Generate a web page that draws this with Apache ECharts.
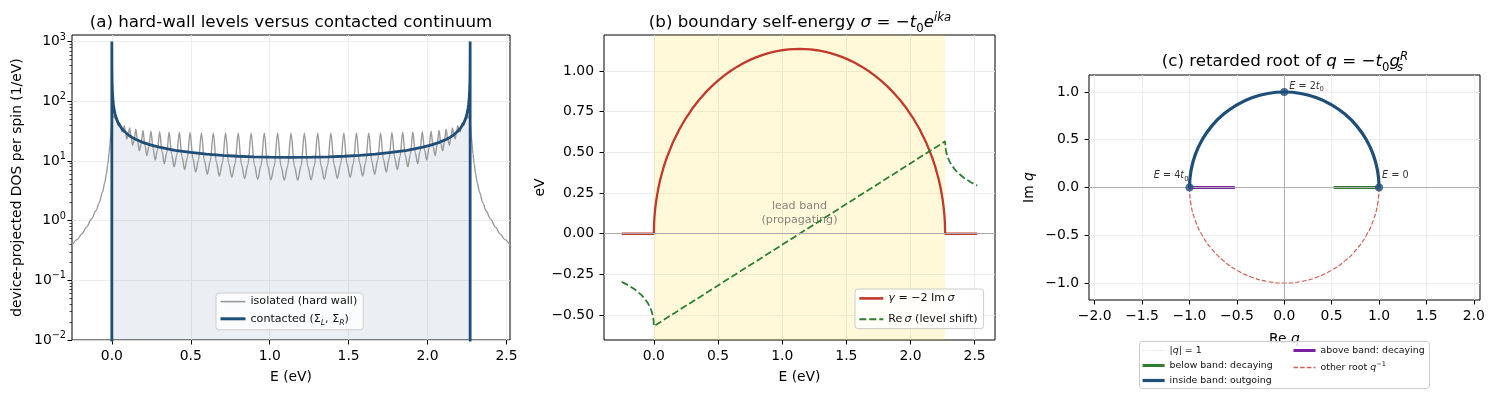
<!DOCTYPE html>
<html>
<head>
<meta charset="utf-8">
<title>hard-wall vs contacted</title>
<script src="https://cdn.jsdelivr.net/npm/echarts@6/dist/echarts.min.js"></script>
<style>
html, body { margin: 0; padding: 0; background: #ffffff; }
#main { width: 1495px; height: 399px; }
</style>
</head>
<body>
<div id="main"></div>
<script>
//---------- (a) 态密度 ----------
const dosTicks = [0.01, 0.1, 1, 10, 100, 1000];
const dosMinorTicks = [0.02, 0.03, 0.04, 0.05, 0.06, 0.07, 0.08, 0.09,
    0.2, 0.3, 0.4, 0.5, 0.6, 0.7, 0.8, 0.9, 2, 3, 4, 5, 6, 7, 8, 9,
    20, 30, 40, 50, 60, 70, 80, 90, 200, 300, 400, 500, 600, 700, 800, 900];
const eTicks = [0, 0.5, 1, 1.5, 2, 2.5];

// isolated (hard wall): [E, DOS]
const isolatedDos = [
    [-0.2525, 0.39], [-0.22, 0.48], [-0.19, 0.60], [-0.16, 0.78], [-0.13, 1.06], [-0.10, 1.48], [-0.08, 2.0],
    [-0.06, 2.97], [-0.045, 4.3], [-0.035, 6.0], [-0.025, 8.9], [-0.018, 13.3], [-0.012, 19], [-0.007, 27], [-0.003, 37],
    [0, 44.6], [0.0032, 51.5], [0.008, 53], [0.0127, 57.4], [0.0205, 52], [0.0285, 50.2], [0.0336, 44], [0.0387, 39.7], [0.0446, 40],
    [0.0504, 43.5], [0.0571, 37.5], [0.0637, 30.7], [0.0711, 33.5], [0.0785, 39.0], [0.0866, 30.2], [0.0947, 23.3], [0.1036, 27.4],
    [0.1124, 35.9], [0.1220, 25.1], [0.1315, 18.3], [0.1418, 23.0], [0.1521, 33.9], [0.1630, 21.3], [0.1740, 14.8], [0.1856, 19.7],
    [0.1972, 32.6], [0.2095, 18.4], [0.2218, 12.3], [0.2347, 17.2], [0.2476, 31.6], [0.2612, 16.1], [0.2747, 10.4], [0.2889, 15.2],
    [0.3030, 31.0], [0.3177, 14.4], [0.3324, 9.03], [0.3477, 13.6], [0.3630, 30.5], [0.3788, 12.9], [0.3947, 7.97], [0.4110, 12.3],
    [0.4273, 30.2], [0.4442, 11.8], [0.4610, 7.15], [0.4783, 11.3], [0.4956, 29.9], [0.5134, 10.9], [0.5312, 6.51], [0.5493, 10.5],
    [0.5675, 29.6], [0.5861, 10.15], [0.6046, 6.00], [0.6236, 9.84], [0.6426, 29.5], [0.6618, 9.56], [0.6811, 5.61], [0.7007, 9.32],
    [0.7203, 29.35], [0.7402, 9.10], [0.7601, 5.31], [0.7803, 8.91], [0.8005, 29.3], [0.8209, 8.74], [0.8412, 5.09], [0.8618, 8.60],
    [0.8824, 29.2], [0.9032, 8.49], [0.9240, 4.93], [0.9449, 8.39], [0.9658, 29.1], [0.9869, 8.31], [1.0079, 4.82], [1.0291, 8.26],
    [1.0502, 29.1], [1.0714, 8.22], [1.0926, 4.77], [1.1138, 8.20], [1.1350, 29.1],
    [1.1562, 8.20], [1.1774, 4.77], [1.1986, 8.22], [1.2198, 29.1], [1.2409, 8.26], [1.2621, 4.82], [1.2831, 8.31], [1.3042, 29.1],
    [1.3251, 8.39], [1.3460, 4.93], [1.3668, 8.49], [1.3876, 29.2], [1.4082, 8.60], [1.4288, 5.09], [1.4491, 8.74], [1.4695, 29.3],
    [1.4897, 8.91], [1.5099, 5.31], [1.5298, 9.10], [1.5497, 29.35], [1.5693, 9.32], [1.5889, 5.61], [1.6082, 9.56], [1.6274, 29.5],
    [1.6464, 9.84], [1.6654, 6.00], [1.6839, 10.15], [1.7025, 29.6], [1.7207, 10.5], [1.7388, 6.51], [1.7566, 10.9], [1.7744, 29.9],
    [1.7917, 11.3], [1.8090, 7.15], [1.8258, 11.8], [1.8427, 30.2], [1.8590, 12.3], [1.8753, 7.97], [1.8912, 12.9], [1.9070, 30.5],
    [1.9223, 13.6], [1.9376, 9.03], [1.9523, 14.4], [1.9670, 31.0], [1.9811, 15.2], [1.9953, 10.4], [2.0088, 16.1], [2.0224, 31.6],
    [2.0353, 17.2], [2.0482, 12.3], [2.0605, 18.4], [2.0728, 32.6], [2.0844, 19.7], [2.0960, 14.8], [2.1070, 21.3], [2.1179, 33.9],
    [2.1282, 23.0], [2.1385, 18.3], [2.1480, 25.1], [2.1576, 35.9], [2.1664, 27.4], [2.1753, 23.3], [2.1834, 30.2], [2.1915, 39.0],
    [2.1989, 33.5], [2.2063, 30.7], [2.2129, 37.5], [2.2196, 43.5], [2.2254, 40], [2.2313, 39.7], [2.2364, 44], [2.2415, 50.2],
    [2.2495, 52], [2.2573, 57.4], [2.2620, 53], [2.2668, 51.5], [2.27, 44.6],
    [2.273, 37], [2.277, 27], [2.282, 19], [2.288, 13.3], [2.295, 8.9], [2.305, 6.0], [2.315, 4.3], [2.33, 2.97],
    [2.35, 2.0], [2.37, 1.48], [2.40, 1.06], [2.43, 0.78], [2.46, 0.60], [2.49, 0.48], [2.5225, 0.39]
];

// contacted (Σ_L, Σ_R): [E, DOS]，带外取很小的值(在轴下方被裁掉)
const contactedDos = [
    [-0.2525, 1e-4], [0, 1e-4], [0, 1000], [0.0002, 612], [0.0005, 387], [0.001, 274], [0.002, 194], [0.004, 137],
    [0.007, 104], [0.01, 86.8], [0.015, 71], [0.02, 61.5], [0.03, 50.3], [0.04, 43.6], [0.05, 39.2], [0.065, 34.4],
    [0.08, 31.1], [0.1, 28.0], [0.125, 25.1], [0.15, 23.1], [0.2, 20.3], [0.25, 18.4], [0.3, 17.0], [0.4, 15.1],
    [0.5, 13.9], [0.6, 13.0], [0.7, 12.45], [0.8, 12.0], [0.9, 11.75], [1.0, 11.58], [1.135, 11.5], [1.27, 11.58],
    [1.37, 11.75], [1.47, 12.0], [1.57, 12.45], [1.67, 13.0], [1.77, 13.9], [1.87, 15.1], [1.97, 17.0], [2.02, 18.4],
    [2.07, 20.3], [2.12, 23.1], [2.145, 25.1], [2.17, 28.0], [2.19, 31.1], [2.205, 34.4], [2.22, 39.2], [2.23, 43.6],
    [2.24, 50.3], [2.25, 61.5], [2.255, 71], [2.26, 86.8], [2.263, 104], [2.266, 137], [2.268, 194], [2.269, 274],
    [2.2695, 387], [2.2698, 612], [2.27, 1000], [2.27, 1e-4], [2.5225, 1e-4]
];

//---------- (b) 自能 ----------
const evTicks = [-0.5, -0.25, 0, 0.25, 0.5, 0.75, 1];
const leadBand = [0, 2.27];
const leadNote = [1.135, 0.125];
const gammaCurve = [
    [-0.25, 0], [0, 0], [0.002, 0.0674], [0.005, 0.1064], [0.01, 0.1503], [0.02, 0.2121], [0.035, 0.2797], [0.05, 0.3332],
    [0.075, 0.4057], [0.1, 0.4658], [0.15, 0.5639], [0.2, 0.6434], [0.25, 0.7106], [0.3, 0.7688], [0.35, 0.8198], [0.4, 0.8649],
    [0.45, 0.905], [0.5, 0.9407], [0.55, 0.9726], [0.6, 1.001], [0.65, 1.0262], [0.7, 1.0483], [0.75, 1.0677], [0.8, 1.0844],
    [0.85, 1.0986], [0.9, 1.1104], [0.95, 1.1198], [1.0, 1.127], [1.05, 1.1318], [1.135, 1.135], [1.22, 1.1318], [1.27, 1.127],
    [1.32, 1.1198], [1.37, 1.1104], [1.42, 1.0986], [1.47, 1.0844], [1.52, 1.0677], [1.57, 1.0483], [1.62, 1.0262], [1.67, 1.001],
    [1.72, 0.9726], [1.77, 0.9407], [1.82, 0.905], [1.87, 0.8649], [1.92, 0.8198], [1.97, 0.7688], [2.02, 0.7106], [2.07, 0.6434],
    [2.12, 0.5639], [2.17, 0.4658], [2.195, 0.4057], [2.22, 0.3332], [2.235, 0.2797], [2.25, 0.2121], [2.26, 0.1503], [2.265, 0.1064],
    [2.268, 0.0674], [2.27, 0], [2.52, 0]
];
const reSigmaCurve = [
    [-0.25, -0.2956], [-0.2, -0.3161], [-0.15, -0.3412], [-0.1, -0.3741], [-0.075, -0.3953], [-0.05, -0.4222], [-0.035, -0.4430],
    [-0.02, -0.4705], [-0.01, -0.4970], [-0.005, -0.5167], [-0.002, -0.5348], [0, -0.5675],
    [2.27, 0.5675], [2.272, 0.5348], [2.275, 0.5167], [2.28, 0.4970], [2.29, 0.4705], [2.305, 0.4430], [2.32, 0.4222],
    [2.345, 0.3953], [2.37, 0.3741], [2.42, 0.3412], [2.47, 0.3161], [2.52, 0.2956]
];

//---------- (c) 复平面 q ----------
const qTicksX = [-2, -1.5, -1, -0.5, 0, 0.5, 1, 1.5, 2];
const qTicksY = [-1, -0.5, 0, 0.5, 1];
const insideArc = [
    [1, 0], [0.9848, 0.1736], [0.9397, 0.3420], [0.8660, 0.5], [0.7660, 0.6428], [0.6428, 0.7660], [0.5, 0.8660],
    [0.3420, 0.9397], [0.1736, 0.9848], [0, 1], [-0.1736, 0.9848], [-0.3420, 0.9397], [-0.5, 0.8660], [-0.6428, 0.7660],
    [-0.7660, 0.6428], [-0.8660, 0.5], [-0.9397, 0.3420], [-0.9848, 0.1736], [-1, 0]
];
const otherArc = [
    [1, 0], [0.9848, -0.1736], [0.9397, -0.3420], [0.8660, -0.5], [0.7660, -0.6428], [0.6428, -0.7660], [0.5, -0.8660],
    [0.3420, -0.9397], [0.1736, -0.9848], [0, -1], [-0.1736, -0.9848], [-0.3420, -0.9397], [-0.5, -0.8660], [-0.6428, -0.7660],
    [-0.7660, -0.6428], [-0.8660, -0.5], [-0.9397, -0.3420], [-0.9848, -0.1736], [-1, 0]
];
const otherRight = [[1, 0], [1.92, 0]];
const otherLeft = [[-1.92, 0], [-1, 0]];
const belowBand = [[0.521, 0], [1, 0]];
const aboveBand = [[-1, 0], [-0.521, 0]];
const keyPoints = [[0, 1], [1, 0], [-1, 0]];
const keyLabels = ['{i|E}{t| = 2}{i|t}{sub|0}', '{i|E}{t| = 0}', '{i|E}{t| = 4}{i|t}{sub|0}'];

//---------- 样式 ----------
const FONT = 'DejaVu Sans';
const BLUE = '#1f4e79', RED = '#c0392b', GREEN = '#2e7d32', PURPLE = '#7b1fa2';
const GRID_C = '#e8e8e8';

//富文本: 普通/斜体/上标/下标
function richStyle(size, color, key) {
    key = key || 'color';
    let lh = Math.round(size * 1.4);
    let small = +(size * 0.7).toFixed(1);
    let slh = Math.round(small * 1.05);
    let mk = (s, italic, extra) => {
        let o = {fontSize: s, fontFamily: FONT, fontStyle: italic ? 'italic' : 'normal', fontWeight: 'normal'};
        o[key] = color;
        return Object.assign(o, extra);
    };
    return {
        t: mk(size, false, {lineHeight: lh}),
        i: mk(size, true, {lineHeight: lh}),
        sup: mk(small, false, {lineHeight: slh, verticalAlign: 'top'}),
        supi: mk(small, true, {lineHeight: slh, verticalAlign: 'top'}),
        sub: mk(small, false, {lineHeight: slh, verticalAlign: 'bottom'}),
        subi: mk(small, true, {lineHeight: slh, verticalAlign: 'bottom'}),
        subz: mk(small, true, {lineHeight: slh, verticalAlign: 'bottom', width: 0.1})
    };
}

function fmt(v, digits) {
    return (v < 0 ? '\u2212' : '') + Math.abs(v).toFixed(digits);
}

function tickStyle(ticks) {
    return {show: true, inside: false, length: 4.5, customValues: ticks, lineStyle: {color: '#000', width: 1}};
}

function nameStyle() {
    return {fontSize: 13.9, fontFamily: FONT, color: '#000', rich: richStyle(13.9, '#000')};
}

function valueAxis(gridIndex, pos, min, max, ticks, digits, name, nameGap) {
    return {
        type: 'value', gridIndex: gridIndex, position: pos, min: min, max: max,
        axisLine: {show: false, onZero: false},
        axisTick: tickStyle(ticks),
        axisLabel: {
            customValues: ticks, margin: pos === 'bottom' ? 9 : 10,
            fontSize: 13.9, fontFamily: FONT, color: '#000',
            formatter: v => fmt(v, digits)
        },
        splitLine: {show: true, lineStyle: {color: GRID_C, width: 0.8}},
        name: name, nameLocation: 'middle', nameGap: nameGap, nameTextStyle: nameStyle()
    };
}

function lineSeries(name, x, y, data, color, width, extra) {
    return Object.assign({
        name: name, type: 'line', xAxisIndex: x, yAxisIndex: y,
        data: data, symbol: 'none', showSymbol: false, animation: false,
        lineStyle: {color: color, width: width},
        itemStyle: {color: color},
        emphasis: {disabled: true}
    }, extra || {});
}

//图例项: 名称 + 线宽
function legendItem(name, width) {
    return {name: name, lineStyle: {width: width}, itemStyle: {opacity: 0, borderWidth: 0}};
}

function createChart() {
    let chart = echarts.init(document.getElementById('main'), null, {renderer: 'canvas'});
    let gridBase = {show: true, borderColor: '#000', borderWidth: 1, backgroundColor: 'transparent', containLabel: false, outerBoundsMode: 'none'};

    let xAxis = [
        valueAxis(0, 'bottom', -0.2525, 2.5225, eTicks, 1, 'E (eV)', 30),
        valueAxis(1, 'bottom', -0.3885, 2.6585, eTicks, 1, 'E (eV)', 30),
        valueAxis(2, 'bottom', -2.06, 2.065, qTicksX, 1, '{t|Re }{i|q}', 30)
    ];
    let yAxis = [
        {
            type: 'log', logBase: 10, gridIndex: 0, position: 'left', min: 0.01, max: 1290,
            axisLine: {show: false, onZero: false},
            axisTick: tickStyle(dosTicks),
            axisLabel: {
                customValues: dosTicks, margin: 6,
                fontSize: 13.9, fontFamily: FONT, color: '#000', rich: richStyle(13.9, '#000'),
                formatter: v => {
                    let e = Math.round(Math.log10(v));
                    return '{t|10}{sup|' + (e < 0 ? '\u2212' : '') + Math.abs(e) + '}';
                }
            },
            splitLine: {show: true, lineStyle: {color: GRID_C, width: 0.8}},
            name: 'device-projected DOS per spin (1/eV)', nameLocation: 'middle', nameGap: 48, nameTextStyle: nameStyle()
        },
        {
            //次刻度
            type: 'log', logBase: 10, gridIndex: 0, position: 'left', min: 0.01, max: 1290,
            axisLine: {show: false, onZero: false},
            axisTick: {show: true, length: 2.5, customValues: dosMinorTicks, lineStyle: {color: '#000', width: 0.7}},
            axisLabel: {show: false},
            splitLine: {show: false}
        },
        valueAxis(1, 'left', -0.6526, 1.2206, evTicks, 2, 'eV', 57),
        valueAxis(2, 'left', -1.178, 1.178, qTicksY, 1, '{t|Im }{i|q}', 50)
    ];

    let series = [
        //(a)
        lineSeries('contactedFill', 0, 0, contactedDos, BLUE, 0, {
            z: 1, lineStyle: {width: 0, color: BLUE},
            areaStyle: {color: 'rgba(31,78,121,0.13)', origin: 'start'}
        }),
        lineSeries('isolated', 0, 0, isolatedDos, '#9a9a9a', 1.4, {z: 2, smooth: 0.35, smoothMonotone: 'x'}),
        lineSeries('contacted', 0, 0, contactedDos, BLUE, 2.8, {z: 3}),
        //(b)
        lineSeries('zeroB', 1, 2, [], '#aaaaaa', 1, {
            z: 1,
            markLine: {silent: true, symbol: ['none', 'none'], label: {show: false}, animation: false,
                lineStyle: {color: '#aaaaaa', width: 1, type: 'solid'}, data: [{yAxis: 0}]},
            markArea: {silent: true, itemStyle: {color: 'rgba(255,215,0,0.15)'}, label: {show: false},
                data: [[{xAxis: leadBand[0]}, {xAxis: leadBand[1]}]]}
        }),
        {
            name: 'note', type: 'scatter', xAxisIndex: 1, yAxisIndex: 2, z: 2, symbolSize: 0,
            data: [leadNote], animation: false, silent: true,
            label: {show: true, position: 'inside', formatter: 'lead band\n(propagating)',
                fontSize: 11.1, fontFamily: FONT, color: '#666666', lineHeight: 14.3, align: 'center'}
        },
        lineSeries('gamma', 1, 2, gammaCurve, RED, 2.3, {z: 3}),
        lineSeries('reSigma', 1, 2, reSigmaCurve, GREEN, 1.8, {z: 4,
            lineStyle: {color: GREEN, width: 1.8, type: [7, 3]}}),
        //(c)
        lineSeries('unit', 2, 3, insideArc.concat(otherArc.slice().reverse()), '#d3d3d3', 0.9, {z: 1, smooth: true,
            lineStyle: {color: '#d3d3d3', width: 0.9, type: [1, 2]}}),
        lineSeries('other', 2, 3, otherArc, '#cd6155', 1.2, {z: 2, smooth: true,
            lineStyle: {color: '#cd6155', width: 1.2, type: [4.5, 2.2]}}),
        lineSeries('other', 2, 3, otherRight, '#cd6155', 1.2, {z: 2,
            lineStyle: {color: '#cd6155', width: 1.2, type: [4.5, 2.2]}}),
        lineSeries('other', 2, 3, otherLeft, '#cd6155', 1.2, {z: 2,
            lineStyle: {color: '#cd6155', width: 1.2, type: [4.5, 2.2]}}),
        lineSeries('below', 2, 3, belowBand, GREEN, 3, {z: 3}),
        lineSeries('above', 2, 3, aboveBand, PURPLE, 3, {z: 3}),
        lineSeries('axesC', 2, 3, [], '#b0b0b0', 1, {
            z: 4,
            markLine: {silent: true, symbol: ['none', 'none'], label: {show: false}, animation: false,
                lineStyle: {color: '#b0b0b0', width: 1, type: 'solid'}, data: [{yAxis: 0}, {xAxis: 0}]}
        }),
        lineSeries('inside', 2, 3, insideArc, BLUE, 3.2, {z: 5, smooth: true}),
        {
            name: 'keys', type: 'scatter', xAxisIndex: 2, yAxisIndex: 3, z: 6, symbolSize: 8,
            itemStyle: {color: BLUE}, animation: false, silent: true,
            data: keyPoints.map((p, i) => ({
                value: p,
                label: {
                    show: true, position: 'inside', formatter: keyLabels[i],
                    align: ['left', 'left', 'right'][i],
                    offset: [[5, -6], [3, -12], [-1, -12]][i],
                    rich: richStyle(9.7, '#000')
                }
            }))
        }
    ];

    let legendRich = richStyle(11.1, '#111');
    let smallRich = richStyle(9.4, '#111');
    let legendText = {
        isolated: '{t|isolated (hard wall)}',
        contacted: '{t|contacted (\u03a3}{subi|L}{t|, \u03a3}{subi|R}{t|)}',
        gamma: '{i|\u03b3}{t| = \u22122 Im\u2009}{i|\u03c3}',
        reSigma: '{t|Re\u2009}{i|\u03c3}{t| (level shift)}',
        unit: '{t||}{i|q}{t|| = 1}',
        below: '{t|below band: decaying}',
        inside: '{t|inside band: outgoing}',
        above: '{t|above band: decaying}',
        other: '{t|other root }{i|q}{sup|\u22121}'
    };
    //图例只画线，不画符号
    let legendBase = {
        orient: 'vertical', selectedMode: false,
        itemStyle: {opacity: 0, borderWidth: 0},
        formatter: name => legendText[name]
    };
    let legend = [
        Object.assign({}, legendBase, {
            left: 216, top: 293, itemWidth: 25, itemHeight: 14, itemGap: 6, padding: [3, 6, 3, 3],
            backgroundColor: 'rgba(255,255,255,0.8)', borderColor: '#cccccc', borderWidth: 1, borderRadius: 3,
            textStyle: {fontSize: 11.1, fontFamily: FONT, color: '#111', rich: legendRich},
            data: [legendItem('isolated', 1.6), legendItem('contacted', 3)]
        }),
        Object.assign({}, legendBase, {
            left: 855, top: 289, itemWidth: 24, itemHeight: 16, itemGap: 8, padding: [3, 6, 3, 3],
            backgroundColor: 'rgba(255,255,255,0.8)', borderColor: '#cccccc', borderWidth: 1, borderRadius: 3,
            textStyle: {fontSize: 11.1, fontFamily: FONT, color: '#111', rich: legendRich},
            data: [legendItem('gamma', 2.6), legendItem('reSigma', 1.9)]
        }),
        Object.assign({}, legendBase, {
            left: 1141, top: 346, itemWidth: 22, itemHeight: 11, itemGap: 6, padding: 0, z: 20,
            textStyle: {fontSize: 9.4, fontFamily: FONT, color: '#111', rich: smallRich},
            data: [legendItem('unit', 1), legendItem('below', 3), legendItem('inside', 3.2)]
        }),
        Object.assign({}, legendBase, {
            left: 1292, top: 346, itemWidth: 22, itemHeight: 11, itemGap: 6, padding: 0, z: 20,
            textStyle: {fontSize: 9.4, fontFamily: FONT, color: '#111', rich: smallRich},
            data: [legendItem('above', 3), legendItem('other', 1.4)]
        })
    ];

    //标题
    let titleRich = richStyle(16.7, '#000', 'fill');
    let graphic = [
        {type: 'text', x: 291, y: 23, z: 10, style: {text: '{t|(a) hard-wall levels versus contacted continuum}',
            align: 'center', verticalAlign: 'middle', rich: titleRich}},
        {type: 'text', x: 800, y: 23, z: 10, style: {text: '{t|(b) boundary self-energy }{i|\u03c3}{t| = \u2212}{i|t}{sub|0}{i|e}{supi|ika}',
            align: 'center', verticalAlign: 'middle', rich: titleRich}},
        {type: 'text', x: 1285, y: 62, z: 10, style: {text: '{t|(c) retarded root of }{i|q}{t| = \u2212}{i|t}{sub|0}{i|g}{subz|s}{supi|R}',
            align: 'center', verticalAlign: 'middle', rich: titleRich}},
        //(c) 图例外框
        {type: 'rect', z: 15, shape: {x: 1139.5, y: 341.5, width: 290, height: 47, r: 3},
            style: {fill: 'rgba(255,255,255,0.85)', stroke: '#cccccc', lineWidth: 1}}
    ];

    chart.setOption({
        animation: false,
        backgroundColor: '#ffffff',
        grid: [
            Object.assign({left: 72, top: 35, width: 438, height: 305}, gridBase),
            Object.assign({left: 604, top: 35, width: 391, height: 305}, gridBase),
            Object.assign({left: 1089, top: 75, width: 391, height: 225}, gridBase)
        ],
        xAxis: xAxis,
        yAxis: yAxis,
        legend: legend,
        graphic: graphic,
        series: series
    });
}

createChart();
</script>
</body>
</html>
